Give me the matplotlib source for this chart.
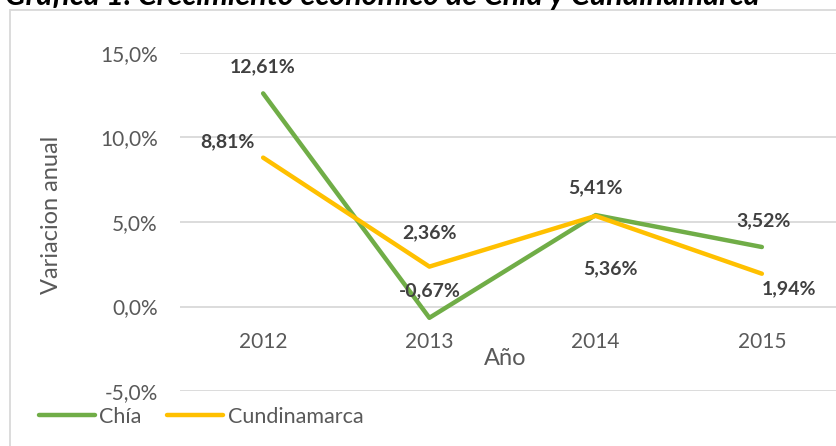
import matplotlib
matplotlib.use('agg')
import matplotlib.pyplot as plt
from matplotlib.patches import Rectangle
from matplotlib.ticker import FuncFormatter

years = ['2012', '2013', '2014', '2015']
chia = [12.61, -0.67, 5.41, 3.52]
cundinamarca = [8.81, 2.36, 5.36, 1.94]
y_ticks = [-5, 0, 5, 10, 15]
title = 'Gráfica 1. Crecimiento económico de Chía y Cundinamarca'

# label placement (pixel offsets from each point)
chia_offsets = [(0, 27), (0, 27), (0, 27), (2, 26)]
cund_offsets = [(-36, 16), (0, 34), (15, -53), (27, -15)]

GREEN = '#70AD47'
YELLOW = '#FFC000'
GRAY = '#595959'
LABEL = '#404040'
GRID = '#D9D9D9'

plt.rcParams['font.family'] = ['Lato', 'DejaVu Sans']

W, H = 837, 446
fig = plt.figure(figsize=(W / 100, H / 100), dpi=100)

# chart frame (runs off the right/bottom edge like the screenshot)
fig.patches.append(Rectangle((10 / W, -0.1), 1.2, 1 - 10 / H + 0.1,
                             transform=fig.transFigure, fill=False,
                             edgecolor=GRID, lw=1.3))

# title is cropped at the top edge in the original screenshot
fig.text(5 / W, 1 - 5 / H, title, fontsize=22, fontweight='bold',
         fontstyle='italic', color='black', va='baseline', ha='left')

ax = fig.add_axes([180 / W, (H - 391) / H, 665 / W, 338 / H])
x = list(range(len(years)))
ax.plot(x, chia, color=GREEN, lw=3.2, label='Chía', solid_capstyle='round')
ax.plot(x, cundinamarca, color=YELLOW, lw=3.2, label='Cundinamarca',
        solid_capstyle='round')

ax.set_xlim(-0.5, len(years) - 0.5)
ax.set_ylim(min(y_ticks), max(y_ticks))
ax.set_yticks(y_ticks)
ax.yaxis.set_major_formatter(FuncFormatter(lambda v, p: f'{v:.1f}%'.replace('.', ',')))
ax.set_xticks(x)
ax.set_xticklabels(years)
ax.grid(axis='y', color=GRID, lw=1.3)
ax.set_axisbelow(True)
for s in ['top', 'right', 'left']:
    ax.spines[s].set_visible(False)
ax.spines['bottom'].set_position(('data', 0))
ax.spines['bottom'].set_color('none')
ax.tick_params(axis='both', length=0, labelsize=15, labelcolor=GRAY)
ax.tick_params(axis='x', pad=18)
ax.tick_params(axis='y', pad=16)

def fmt(v):
    return f'{v:.2f}%'.replace('.', ',')

for xi, v, off in zip(x, chia, chia_offsets):
    ax.annotate(fmt(v), (xi, v), xytext=off, textcoords='offset pixels',
                ha='center', va='center', fontsize=14, fontweight='bold',
                color=LABEL)
for xi, v, off in zip(x, cundinamarca, cund_offsets):
    ax.annotate(fmt(v), (xi, v), xytext=off, textcoords='offset pixels',
                ha='center', va='center', fontsize=14, fontweight='bold',
                color=LABEL)

fig.text(505 / W, 1 - 365 / H, 'Año', fontsize=17, color=GRAY,
         ha='center', va='baseline')
fig.text(52 / W, 1 - 215 / H, 'Variacion anual', fontsize=17, color=GRAY,
         ha='center', va='center', rotation=90)

fig.legend(loc='center left', bbox_to_anchor=(39 / W, 1 - 417 / H),
           ncol=2, frameon=False, fontsize=15.5, labelcolor=GRAY,
           handlelength=2.6, handletextpad=0.2, columnspacing=1.2,
           borderaxespad=0, borderpad=0)

fig.savefig('out.png', dpi=100)
